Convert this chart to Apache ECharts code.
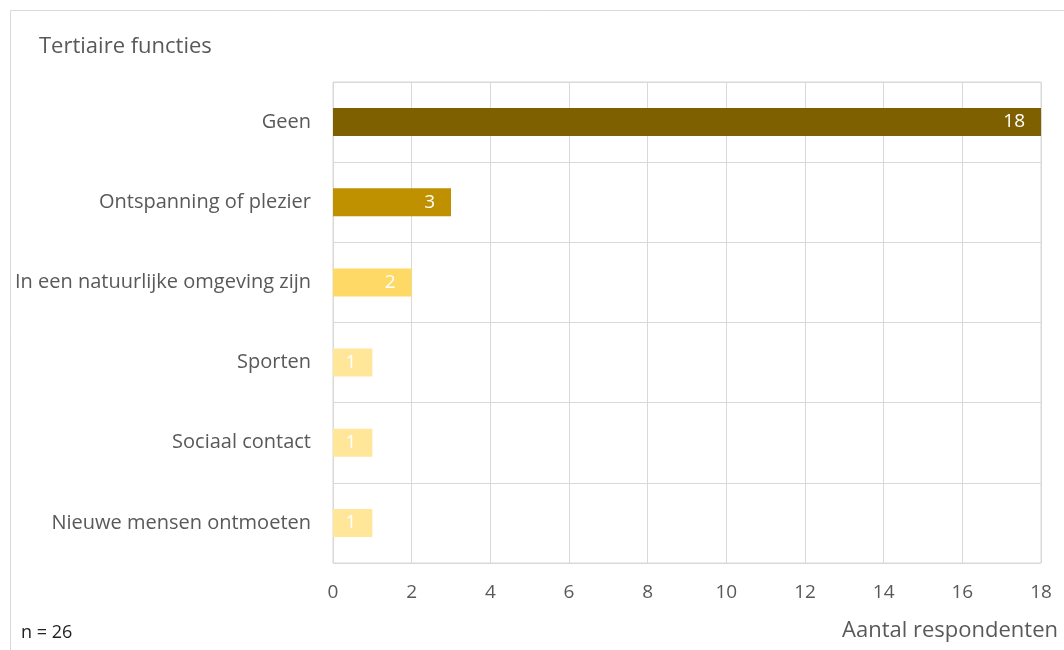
<!DOCTYPE html>
<html>
<head>
<meta charset="utf-8">
<script src="https://cdn.jsdelivr.net/npm/echarts@6/dist/echarts.min.js"></script>
<style>html,body{margin:0;padding:0;background:#fff}#c{width:1064px;height:650px}</style>
</head>
<body>
<div id="c"></div>
<script>
const categories = ["Geen", "Ontspanning of plezier", "In een natuurlijke omgeving zijn", "Sporten", "Sociaal contact", "Nieuwe mensen ontmoeten"];
const values = [18, 3, 2, 1, 1, 1];
const barColors = ["#7F6000", "#BF9000", "#FFD966", "#FFE699", "#FFE699", "#FFE699"];
const xTicks = [0, 2, 4, 6, 8, 10, 12, 14, 16, 18];

const FONT = "'Open Sans', sans-serif";
const chart = echarts.init(document.getElementById('c'), null, {renderer: 'canvas'});
chart.setOption({
  animation: false,
  textStyle: {fontFamily: FONT},
  title: {
    text: "Tertiaire functies", left: 34, top: 31,
    textStyle: {fontFamily: FONT, fontSize: 22, fontWeight: 'normal', color: '#595959'}
  },
  graphic: [
    {type: 'rect', shape: {x: 10.5, y: 10.5, width: 1100, height: 700}, style: {fill: 'none', stroke: '#d9d9d9', lineWidth: 1}, z: -1},
    {type: 'text', left: 21, top: 624, style: {text: 'n = 26', font: "18px " + FONT, fill: '#222'}}
  ],
  grid: {left: 333, right: 23, top: 82, bottom: 87, show: true, borderColor: '#d9d9d9', borderWidth: 1},
  xAxis: {
    type: 'value', min: 0, max: 18, interval: 2,
    name: 'Aantal respondenten', nameLocation: 'end', nameGap: 0,
    nameTextStyle: {fontFamily: FONT, fontSize: 22, color: '#595959', align: 'right', verticalAlign: 'top', padding: [57, -17, 0, 0]},
    axisLine: {show: false}, axisTick: {show: false},
    axisLabel: {fontFamily: FONT, fontSize: 19, color: '#595959', margin: 20,
      formatter: v => xTicks.includes(v) ? String(v) : ''},
    splitLine: {show: true, lineStyle: {color: '#d9d9d9', width: 1}}
  },
  yAxis: {
    type: 'category', data: categories, inverse: true,
    axisLine: {show: false}, axisTick: {show: false},
    axisLabel: {fontFamily: FONT, fontSize: 20, color: '#595959', margin: 22},
    splitLine: {show: true, lineStyle: {color: '#d9d9d9', width: 1}}
  },
  series: [{
    type: 'bar',
    data: values.map((v, i) => ({value: v, itemStyle: {color: barColors[i]}})),
    barWidth: '35%',
    label: {show: true, position: 'insideRight', distance: 16, color: '#fff', fontFamily: FONT, fontSize: 19}
  }]
});
</script>
</body>
</html>
